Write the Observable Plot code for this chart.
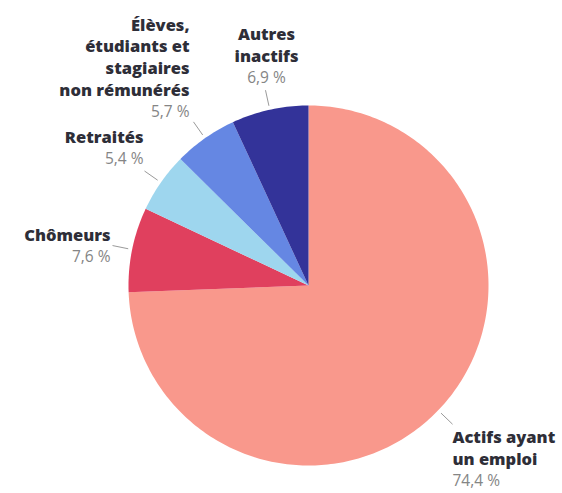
<!DOCTYPE html>
<html><head><meta charset="utf-8">
<script src="https://cdn.jsdelivr.net/npm/d3@7"></script>
<script src="https://cdn.jsdelivr.net/npm/@observablehq/plot@0.6"></script>
<style>body{margin:0;background:#fff;} #chart svg{display:block;}</style>
</head><body><div id="chart"></div>
<script>
// ---- data ----
const categories = ["Actifs ayant un emploi", "Chômeurs", "Retraités", "Élèves, étudiants et stagiaires non rémunérés", "Autres inactifs"];
const nameLines = [["Actifs ayant", "un emploi"], ["Chômeurs"], ["Retraités"], ["Élèves,", "étudiants et", "stagiaires", "non rémunérés"], ["Autres", "inactifs"]];
const values = [74.4, 7.6, 5.4, 5.7, 6.9];
const valueLabels = ["74,4 %", "7,6 %", "5,4 %", "5,7 %", "6,9 %"];
const colors = ["#f9988c", "#e0405e", "#9ed6ee", "#6587e3", "#333399"];

// ---- layout (pixels) ----
const W = 562, H = 493;
const CX = 308, CY = 285, R = 180;
const labelPos = [ // x, y of value line, anchor
  {x: 452, y: 481, anchor: "start"},
  {x: 110, y: 257, anchor: "end"},
  {x: 143, y: 159, anchor: "end"},
  {x: 189, y: 112, anchor: "end"},
  {x: 266, y: 78, anchor: "middle"}
];
const LH = 21.8;

const total = d3.sum(values);
let acc = 0;
const slices = [], leaders = [], names = [], vals = [];
values.forEach((v, i) => {
  const a0 = acc / total * 2 * Math.PI;
  acc += v;
  const a1 = acc / total * 2 * Math.PI;
  const pt = (a, r) => [CX + r * Math.sin(a), CY - r * Math.cos(a)];
  slices.push({cat: categories[i], x: CX, y: CY});
  const n = Math.max(2, Math.ceil((a1 - a0) / (Math.PI / 180)));
  for (let k = 0; k <= n; k++) {
    const [x, y] = pt(a0 + (a1 - a0) * k / n, R);
    slices.push({cat: categories[i], x, y});
  }
  const am = (a0 + a1) / 2;
  const [x1, y1] = pt(am, R + 4), [x2, y2] = pt(am, R + 20);
  leaders.push({x1, y1, x2, y2});
  const p = labelPos[i];
  const L = nameLines[i];
  L.forEach((t, j) => names.push({t, x: p.x, y: p.y - (L.length - j) * LH, anchor: p.anchor}));
  vals.push({t: valueLabels[i], x: p.x, y: p.y, anchor: p.anchor});
});

const textMarks = (data, opts) => ["start", "middle", "end"].map(a =>
  Plot.text(data.filter(d => d.anchor === a), {x: "x", y: "y", text: "t", textAnchor: a, ...opts}));

const chart = Plot.plot({
  width: W, height: H,
  margin: 0,
  style: {fontFamily: "'Open Sans', sans-serif", background: "#fff"},
  x: {domain: [0, W], range: [0, W], axis: null},
  y: {domain: [0, H], range: [0, H], axis: null},
  color: {domain: categories, range: colors},
  marks: [
    Plot.line(slices, {x: "x", y: "y", z: "cat", fill: "cat", stroke: null, curve: "linear"}),
    Plot.link(leaders, {x1: "x1", y1: "y1", x2: "x2", y2: "y2", stroke: "#9a9a9a", strokeWidth: 1}),
    ...textMarks(names, {fontSize: 16.5, fontWeight: 800, fill: "#2e2e38"}),
    ...textMarks(vals, {fontSize: 15.5, fill: "#858585"})
  ]
});
document.getElementById("chart").append(chart);
</script>
</body></html>
